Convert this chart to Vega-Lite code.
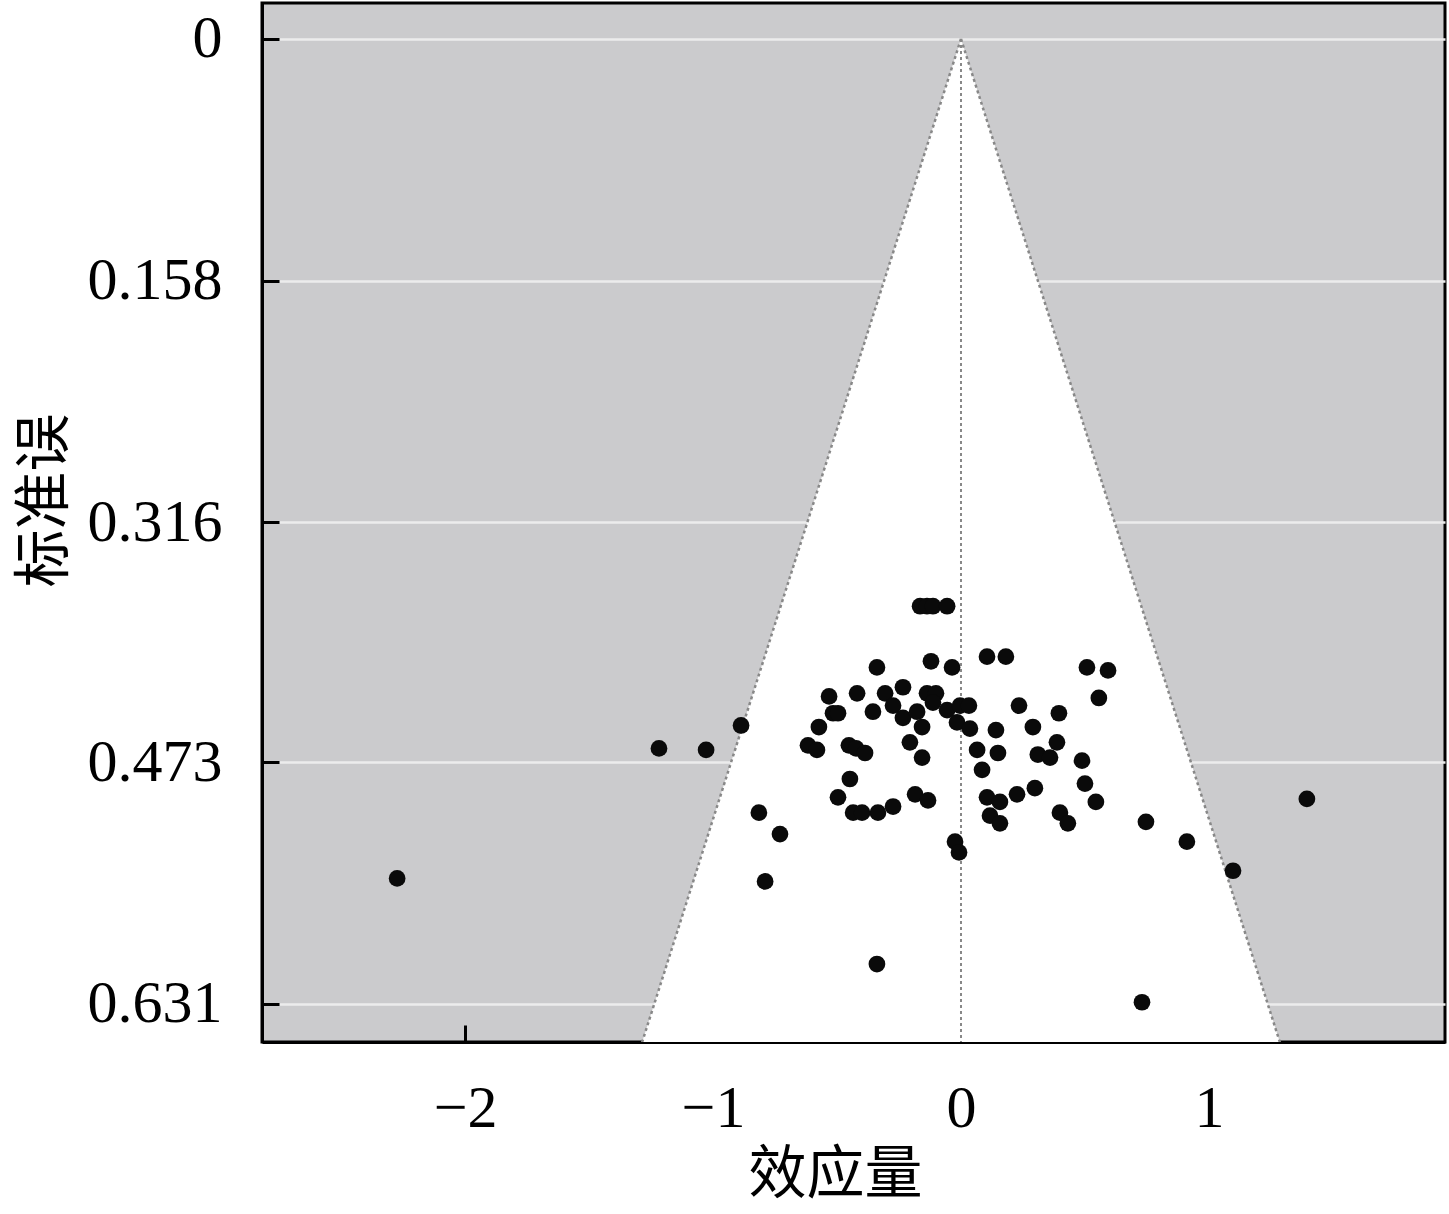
{
  "$schema": "https://vega.github.io/schema/vega-lite/v6.json",
  "width": 1183,
  "height": 1039,
  "autosize": {"type": "none"},
  "padding": {"left": 262, "top": 3, "right": 4, "bottom": 172},
  "background": "white",
  "config": {
    "view": {"stroke": "black", "strokeWidth": 3, "fill": "#cbcbcd"},
    "axis": {
      "domainColor": "black", "domainWidth": 3,
      "tickColor": "black", "tickWidth": 3, "tickSize": -17,
      "labelFont": "Liberation Serif", "labelFontSize": 60, "labelColor": "black",
      "titleFont": "Noto Sans CJK SC", "titleFontSize": 58, "titleFontWeight": "normal", "titleColor": "black"
    }
  },
  "datasets": {
    "funnel": [{"se": 0, "x": 0, "x2": 0}, {"se": 0.66, "x": -1.2936, "x2": 1.2936}],
    "center": [{"x": 0, "se": 0, "se2": 0.66}],
    "edges": [
      {"se": 0, "x": 0, "side": "L"}, {"se": 0.66, "x": -1.2936, "side": "L"},
      {"se": 0, "x": 0, "side": "R"}, {"se": 0.66, "x": 1.2936, "side": "R"}
    ],
    "studies": [
      {"x": -2.274, "se": 0.549}, {"x": -1.218, "se": 0.464}, {"x": -1.028, "se": 0.465},
      {"x": -0.887, "se": 0.449}, {"x": -0.815, "se": 0.506}, {"x": -0.730, "se": 0.520},
      {"x": -0.790, "se": 0.551}, {"x": -0.339, "se": 0.605}, {"x": 0.730, "se": 0.630},
      {"x": 0.746, "se": 0.512}, {"x": 0.911, "se": 0.525}, {"x": 1.097, "se": 0.544},
      {"x": 1.395, "se": 0.497}, {"x": -0.165, "se": 0.371}, {"x": -0.137, "se": 0.371},
      {"x": -0.113, "se": 0.371}, {"x": -0.056, "se": 0.371}, {"x": 0.105, "se": 0.404},
      {"x": 0.181, "se": 0.404}, {"x": -0.339, "se": 0.411}, {"x": -0.121, "se": 0.407},
      {"x": -0.036, "se": 0.411}, {"x": 0.508, "se": 0.411}, {"x": 0.593, "se": 0.413},
      {"x": 0.556, "se": 0.431}, {"x": -0.532, "se": 0.430}, {"x": -0.419, "se": 0.428},
      {"x": -0.306, "se": 0.428}, {"x": -0.234, "se": 0.424}, {"x": -0.137, "se": 0.428},
      {"x": -0.101, "se": 0.428}, {"x": -0.516, "se": 0.441}, {"x": -0.496, "se": 0.441},
      {"x": -0.355, "se": 0.440}, {"x": -0.274, "se": 0.436}, {"x": -0.234, "se": 0.444},
      {"x": -0.177, "se": 0.440}, {"x": -0.157, "se": 0.450}, {"x": -0.113, "se": 0.434},
      {"x": -0.056, "se": 0.439}, {"x": -0.016, "se": 0.447}, {"x": -0.004, "se": 0.436},
      {"x": 0.032, "se": 0.436}, {"x": 0.036, "se": 0.451}, {"x": 0.141, "se": 0.452},
      {"x": 0.234, "se": 0.436}, {"x": 0.290, "se": 0.450}, {"x": 0.395, "se": 0.441},
      {"x": -0.573, "se": 0.450}, {"x": -0.206, "se": 0.460}, {"x": -0.157, "se": 0.470},
      {"x": 0.065, "se": 0.465}, {"x": 0.149, "se": 0.467}, {"x": 0.085, "se": 0.478},
      {"x": 0.387, "se": 0.460}, {"x": 0.310, "se": 0.468}, {"x": 0.359, "se": 0.470},
      {"x": 0.488, "se": 0.472}, {"x": 0.500, "se": 0.487}, {"x": 0.544, "se": 0.499},
      {"x": 0.298, "se": 0.490}, {"x": 0.226, "se": 0.494}, {"x": 0.105, "se": 0.496},
      {"x": 0.157, "se": 0.499}, {"x": 0.117, "se": 0.508}, {"x": 0.157, "se": 0.513},
      {"x": 0.399, "se": 0.506}, {"x": 0.431, "se": 0.513}, {"x": -0.024, "se": 0.525},
      {"x": -0.008, "se": 0.532}, {"x": -0.185, "se": 0.494}, {"x": -0.133, "se": 0.498},
      {"x": -0.274, "se": 0.502}, {"x": -0.617, "se": 0.462}, {"x": -0.581, "se": 0.465},
      {"x": -0.452, "se": 0.462}, {"x": -0.423, "se": 0.464}, {"x": -0.387, "se": 0.467},
      {"x": -0.448, "se": 0.484}, {"x": -0.496, "se": 0.496}, {"x": -0.435, "se": 0.506},
      {"x": -0.399, "se": 0.506}, {"x": -0.335, "se": 0.506}
    ]
  },
  "encoding": {
    "x": {
      "field": "x", "type": "quantitative",
      "scale": {"domain": [-2.819, 1.952], "nice": false, "zero": false},
      "axis": {"values": [-2, -1, 0, 1], "format": "~f", "grid": false, "title": "效应量", "labelPadding": 54, "titlePadding": 8, "titleX": 573}
    },
    "y": {
      "field": "se", "type": "quantitative",
      "scale": {"domain": [-0.0235, 0.656], "nice": false, "zero": false, "reverse": true},
      "axis": {"values": [0, 0.158, 0.316, 0.473, 0.631], "format": ".3~f", "grid": true, "gridColor": "#ececec", "gridWidth": 2.5, "title": "标准误", "labelPadding": 57, "titlePadding": 13, "titleY": 497}
    }
  },
  "layer": [
    {
      "data": {"name": "funnel"},
      "mark": {"type": "area", "orient": "horizontal", "color": "white", "clip": true},
      "encoding": {"x2": {"field": "x2"}}
    },
    {
      "data": {"name": "center"},
      "mark": {"type": "rule", "color": "#888888", "strokeWidth": 2, "strokeDash": [3, 3], "clip": true},
      "encoding": {"y2": {"field": "se2"}}
    },
    {
      "data": {"name": "edges"},
      "mark": {"type": "line", "color": "#888888", "strokeWidth": 2.5, "strokeDash": [3, 3], "clip": true},
      "encoding": {"detail": {"field": "side"}}
    },
    {
      "data": {"name": "studies"},
      "mark": {"type": "circle", "color": "#0a0a0a", "opacity": 1, "size": 280}
    }
  ]
}
